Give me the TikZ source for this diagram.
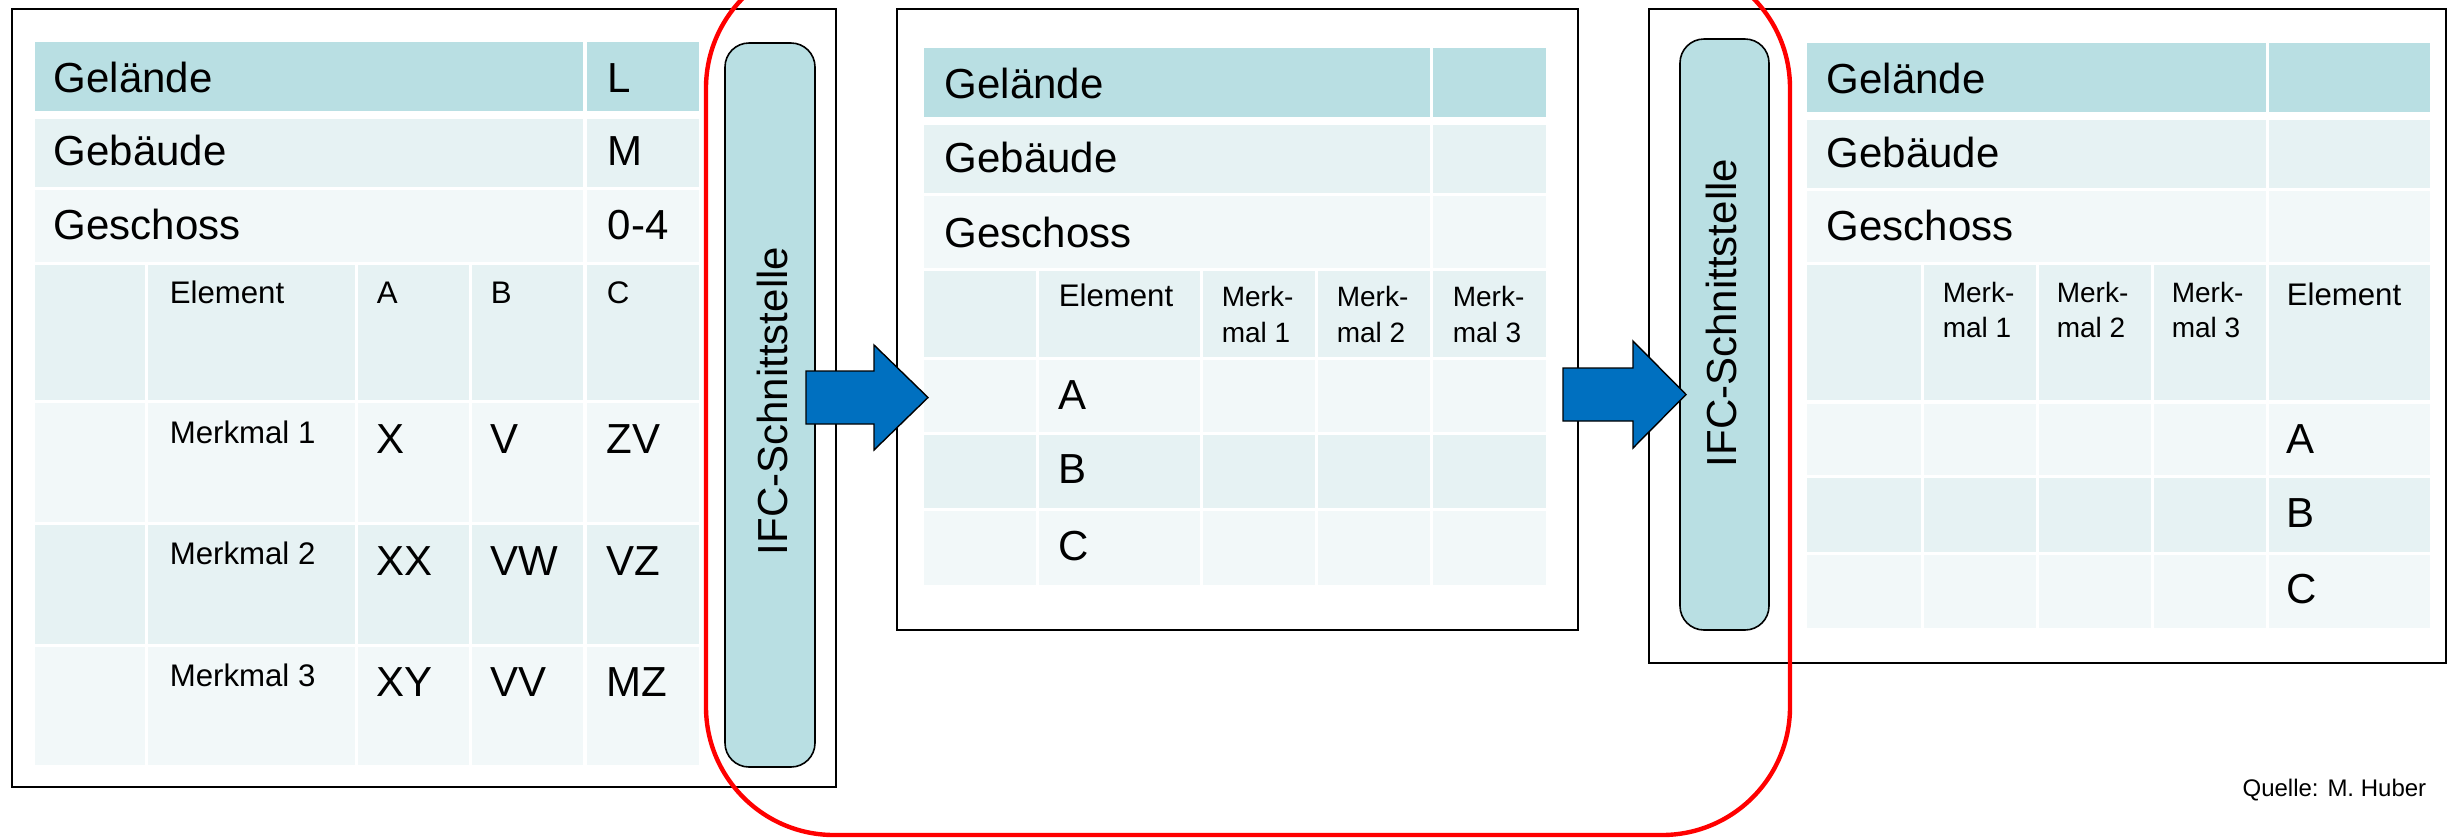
\documentclass[tikz,border=0pt]{standalone}
\usepackage{fontspec}
\setmainfont{Liberation Sans}
\definecolor{hdr}{RGB}{185,223,227}
\definecolor{bandA}{RGB}{230,242,243}
\definecolor{bandB}{RGB}{242,248,249}
\definecolor{arrowblue}{RGB}{0,112,192}
\newcommand\myrow[4]{\foreach \xa/\xb in {#4} {\fill[#1] (\xa,#2) rectangle (\xb,#3);}}
\begin{document}
\begin{tikzpicture}[x=0.25pt,y=-0.25pt,
  txt/.style={anchor=base west,inner sep=0pt},
  big/.style={font=\fontsize{10.5pt}{12.6pt}\selectfont},
  mid/.style={font=\fontsize{7.8pt}{9.4pt}\selectfont},
  sml/.style={font=\fontsize{7pt}{8.4pt}\selectfont},
  panel/.style={fill=white,draw=black,line width=0.5pt},
  ifcbox/.style={fill=hdr,draw=black,line width=0.4pt,rounded corners=6pt},
  ifctext/.style={font=\fontsize{10.5pt}{12.6pt}\selectfont,rotate=90,inner sep=0pt,anchor=center},
  blockarrow/.style={fill=arrowblue,draw=black,line width=0.35pt,line join=miter},
  redframe/.style={draw=red,line width=1.1pt,rounded corners=32pt}]
\useasboundingbox (0,0) rectangle (2453,838);
\clip (0,0) rectangle (2453,838);

% ---------- panels ----------
\draw[panel] (12,9) rectangle (836,787);
\draw[panel] (897,9) rectangle (1578,630);
\draw[panel] (1649,9) rectangle (2446,663);

% ---------- table 1 ----------
\myrow{hdr}{42}{111}{35/583,587/699}
\myrow{bandA}{119}{187}{35/583,587/699}
\myrow{bandB}{190}{262}{35/583,587/699}
\myrow{bandA}{265}{400}{35/145,148/355,358/469,472/583,587/699}
\myrow{bandB}{403}{522}{35/145,148/355,358/469,472/583,587/699}
\myrow{bandA}{525}{644}{35/145,148/355,358/469,472/583,587/699}
\myrow{bandB}{647}{765}{35/145,148/355,358/469,472/583,587/699}

\node[txt,big] (t1gel) at (53,92) {Gelände};
\node[txt,big] (t1L) at (607,92) {L};
\node[txt,big] (t1geb) at (53,165) {Gebäude};
\node[txt,big] (t1M) at (607,165) {M};
\node[txt,big] (t1ges) at (53,239) {Geschoss};
\node[txt,big] (t1num) at (607,239) {0-4};
\node[txt,mid] (t1el) at (169,303) {Element};
\node[txt,mid] (t1A) at (376,303) {A};
\node[txt,mid] (t1B) at (490,303) {B};
\node[txt,mid] (t1C) at (606,303) {C};
\node[txt,mid] (t1m1) at (169,443) {Merkmal 1};
\node[txt,big] (t1a1) at (376,453) {X};
\node[txt,big] (t1b1) at (490,453) {V};
\node[txt,big] (t1c1) at (606,453) {ZV};
\node[txt,mid] (t1m2) at (169,564) {Merkmal 2};
\node[txt,big] (t1a2) at (376,575) {XX};
\node[txt,big] (t1b2) at (490,575) {VW};
\node[txt,big] (t1c2) at (606,575) {VZ};
\node[txt,mid] (t1m3) at (169,686) {Merkmal 3};
\node[txt,big] (t1a3) at (376,696) {XY};
\node[txt,big] (t1b3) at (490,696) {VV};
\node[txt,big] (t1c3) at (606,696) {MZ};

% ---------- table 2 ----------
\myrow{hdr}{48}{117}{924/1430,1433/1546}
\myrow{bandA}{125}{193}{924/1430,1433/1546}
\myrow{bandB}{196}{268}{924/1430,1433/1546}
\myrow{bandA}{271}{357}{924/1036,1039/1200,1203/1315,1318/1430,1433/1546}
\myrow{bandB}{360}{432}{924/1036,1039/1200,1203/1315,1318/1430,1433/1546}
\myrow{bandA}{435}{508}{924/1036,1039/1200,1203/1315,1318/1430,1433/1546}
\myrow{bandB}{511}{585}{924/1036,1039/1200,1203/1315,1318/1430,1433/1546}

\node[txt,big] (t2gel) at (944,98) {Gelände};
\node[txt,big] (t2geb) at (944,172) {Gebäude};
\node[txt,big] (t2ges) at (944,247) {Geschoss};
\node[txt,mid] (t2el) at (1058,306) {Element};
\node[txt,sml] (t2h1a) at (1221,306) {Merk-};
\node[txt,sml] (t2h1b) at (1221,342) {mal 1};
\node[txt,sml] (t2h2a) at (1336,306) {Merk-};
\node[txt,sml] (t2h2b) at (1336,342) {mal 2};
\node[txt,sml] (t2h3a) at (1452,306) {Merk-};
\node[txt,sml] (t2h3b) at (1452,342) {mal 3};
\node[txt,big] (t2A) at (1058,409) {A};
\node[txt,big] (t2B) at (1058,483) {B};
\node[txt,big] (t2C) at (1058,560) {C};

% ---------- table 3 ----------
\myrow{hdr}{43}{112}{1807/2266,2269/2430}
\myrow{bandA}{120}{188}{1807/2266,2269/2430}
\myrow{bandB}{191}{262}{1807/2266,2269/2430}
\myrow{bandA}{265}{400}{1807/1921,1924/2036,2039/2151,2154/2266,2269/2430}
\myrow{bandB}{404}{475}{1807/1921,1924/2036,2039/2151,2154/2266,2269/2430}
\myrow{bandA}{478}{552}{1807/1921,1924/2036,2039/2151,2154/2266,2269/2430}
\myrow{bandB}{555}{628}{1807/1921,1924/2036,2039/2151,2154/2266,2269/2430}

\node[txt,big] (t3gel) at (1826,93) {Gelände};
\node[txt,big] (t3geb) at (1826,167) {Gebäude};
\node[txt,big] (t3ges) at (1826,240) {Geschoss};
\node[txt,sml] (t3h1a) at (1942,302) {Merk-};
\node[txt,sml] (t3h1b) at (1942,337) {mal 1};
\node[txt,sml] (t3h2a) at (2056,302) {Merk-};
\node[txt,sml] (t3h2b) at (2056,337) {mal 2};
\node[txt,sml] (t3h3a) at (2171,302) {Merk-};
\node[txt,sml] (t3h3b) at (2171,337) {mal 3};
\node[txt,mid] (t3el) at (2286,305) {Element};
\node[txt,big] (t3A) at (2286,453) {A};
\node[txt,big] (t3B) at (2286,527) {B};
\node[txt,big] (t3C) at (2286,603) {C};

% ---------- IFC boxes ----------
\draw[ifcbox] (725,43) rectangle (815,767);
\node[ifctext] (ifc1) at (772,401) {IFC-Schnittstelle};
\draw[ifcbox] (1680,39) rectangle (1769,630);
\node[ifctext] (ifc2) at (1721,313) {IFC-Schnittstelle};

% ---------- red frame ----------
\draw[redframe] (706,-40) rectangle (1790,835);

% ---------- arrows ----------
\draw[blockarrow] (806,371) -- (874,371) -- (874,345) -- (928,397.5) -- (874,450) -- (874,424) -- (806,424) -- cycle;
\draw[blockarrow] (1563,368) -- (1633,368) -- (1633,341) -- (1686,394.5) -- (1633,448) -- (1633,421) -- (1563,421) -- cycle;

% ---------- source ----------
\node[anchor=base east,inner sep=0pt,font=\fontsize{6pt}{7.2pt}\selectfont] (src) at (2427,796) {Quelle: M. Huber};
\end{tikzpicture}
\end{document}
